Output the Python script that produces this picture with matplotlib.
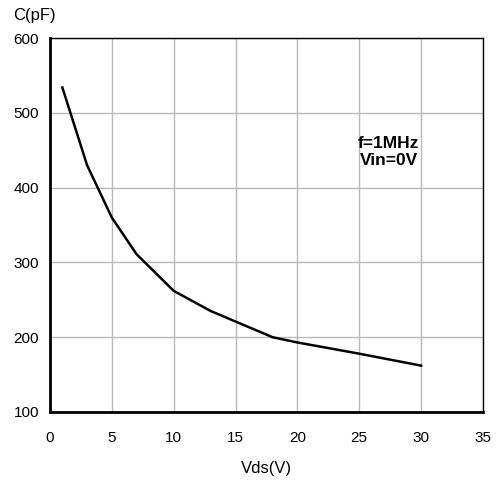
import matplotlib
matplotlib.use("Agg")
import matplotlib.pyplot as plt

vds = [1, 3, 5, 7, 10, 13, 18, 20, 25, 30]
cap = [534, 430, 360, 311, 262, 235, 200, 193, 178, 162]

xticks = [0, 5, 10, 15, 20, 25, 30, 35]
yticks = [100, 200, 300, 400, 500, 600]

plt.rcParams['font.family'] = ['Liberation Sans', 'DejaVu Sans']
plt.rcParams['font.size'] = 11

fig = plt.figure(figsize=(5.04, 4.83), dpi=100)
ax = fig.add_axes([0.0992, 0.147, 0.859, 0.774])

ax.plot(vds, cap, color='black', linewidth=1.8)
ax.set_xlim(0, 35)
ax.set_ylim(100, 600)
ax.set_xticks(xticks)
ax.set_yticks(yticks)
ax.grid(True, color='#b8b8b8', linewidth=1)
ax.set_axisbelow(True)
ax.tick_params(length=0, labelsize=11)
ax.tick_params(axis='x', pad=14)
ax.tick_params(axis='y', pad=8)

for s in ['left', 'bottom']:
    ax.spines[s].set_linewidth(2)
for s in ['top', 'right']:
    ax.spines[s].set_linewidth(1)

ax.text(27.4, 448, 'f=1MHz\nVin=0V', ha='center', va='center',
        fontweight='bold', fontsize=12.5, linespacing=1.15)

fig.text(0.026, 0.968, 'C(pF)', ha='left', va='center', fontsize=12)
fig.text(0.529, 0.031, 'Vds(V)', ha='center', va='center', fontsize=12)

fig.savefig('out.png', dpi=100)
